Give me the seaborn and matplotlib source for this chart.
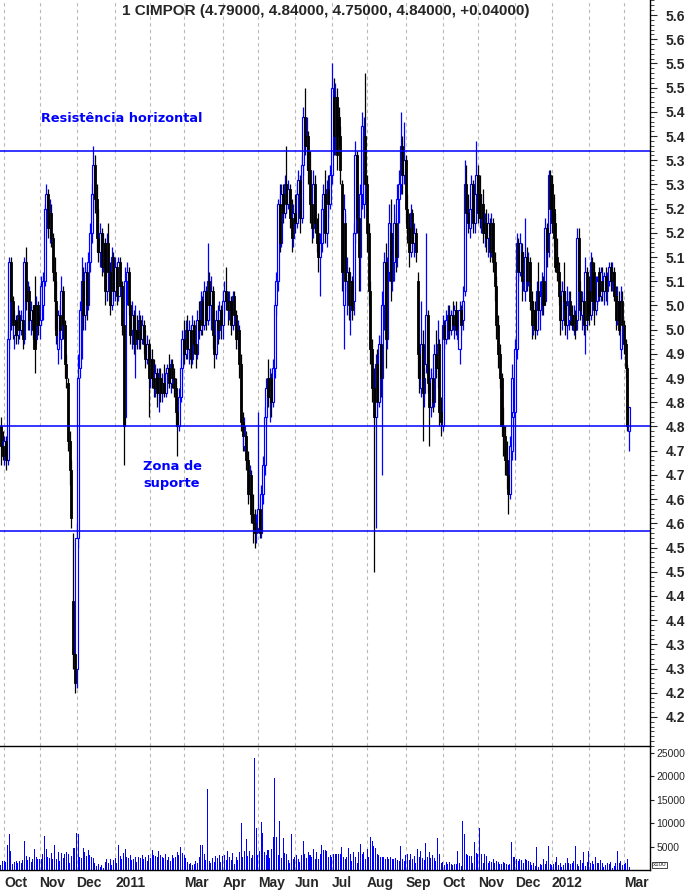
import matplotlib
matplotlib.use("Agg")
import matplotlib.pyplot as plt
import numpy as np
import pandas as pd
import seaborn as sns
from matplotlib.ticker import MultipleLocator

AZUL = "#0000ff"

# pregões de 29-09-2010 a 06-03-2012 (dias úteis)
datas = pd.bdate_range("2010-09-29", "2012-03-06")

# cotações diárias (uma linha por mês)
aberturas = [
    4.80, 4.76,
    4.74, 4.77, 4.73, 4.98, 5.14, 5.06, 4.99, 5.02, 4.99, 5.03, 5.00, 5.02, 4.98, 5.14, 5.06, 5.08, 5.02, 5.04, 5.05, 4.98, 5.05,
    5.01, 5.02, 5.05, 5.10, 5.25, 5.28, 5.21, 5.24, 5.19, 5.12, 5.06, 4.96, 5.03, 4.98, 5.08, 5.01, 4.93, 4.89, 4.77, 4.71, 4.44, 4.33,
    4.30, 4.57, 4.92, 5.04, 5.10, 5.03, 5.12, 5.05, 5.14, 5.20, 5.28, 5.34, 5.27, 5.19, 5.16, 5.20, 5.13, 5.18, 5.08, 5.18, 5.12, 5.05, 5.15,
    5.08, 5.13, 5.07, 5.14, 5.09, 5.01, 4.82, 5.10, 5.12, 5.05, 5.00, 5.03, 4.97, 5.00, 4.98, 5.02, 4.98, 5.01, 4.97, 4.94, 4.97,
    4.90, 4.94, 4.90, 4.88, 4.91, 4.87, 4.90, 4.87, 4.89, 4.87, 4.91, 4.92, 4.89, 4.93, 4.90, 4.88, 4.83, 4.80, 4.86, 4.92,
    4.98, 4.95, 5.00, 4.96, 5.00, 4.94, 5.01, 4.97, 4.95, 5.02, 5.00, 5.06, 5.01, 5.08, 5.02, 5.10, 5.05, 5.08, 4.99, 4.95, 5.02, 5.00, 5.04,
    5.01, 5.06, 5.08, 5.06, 5.04, 5.06, 5.01, 5.07, 5.03, 4.98, 5.00, 4.93, 4.81, 4.76, 4.78, 4.73, 4.66, 4.70, 4.62, 4.60, 4.58,
    4.59, 4.63, 4.58, 4.66, 4.72, 4.82, 4.90, 4.86, 4.90, 4.85, 4.92, 5.05, 5.10, 5.26, 5.18, 5.28, 5.24, 5.30, 5.26, 5.29, 5.23, 5.19,
    5.24, 5.22, 5.28, 5.31, 5.23, 5.34, 5.44, 5.38, 5.40, 5.33, 5.26, 5.21, 5.30, 5.22, 5.20, 5.15, 5.18, 5.25, 5.28, 5.20, 5.29, 5.26,
    5.32, 5.48, 5.40, 5.48, 5.44, 5.40, 5.30, 5.05, 5.22, 5.10, 5.12, 5.05, 5.10, 5.06, 5.20, 5.36, 5.23, 5.15, 5.28, 5.26, 5.40,
    5.30, 5.20, 5.08, 4.96, 4.88, 4.82, 4.93, 4.85, 4.97, 4.90, 5.05, 5.14, 4.98, 5.12, 5.20, 5.10, 5.14, 5.22, 5.15, 5.27, 5.30, 5.38, 5.32,
    5.35, 5.25, 5.21, 5.16, 5.24, 5.18, 5.20, 5.10, 4.95, 4.88, 4.97, 4.87, 4.93, 5.03, 4.89, 4.84, 4.90, 4.85, 4.95, 4.92, 4.97, 4.83,
    4.80, 5.01, 4.98, 5.02, 5.03, 5.00, 5.03, 5.01, 5.04, 4.98, 4.96, 5.04, 5.02, 5.08, 5.30, 5.24, 5.21, 5.25, 5.30, 5.22, 5.28,
    5.32, 5.28, 5.23, 5.26, 5.20, 5.22, 5.19, 5.22, 5.16, 5.22, 5.14, 5.09, 5.01, 4.95, 4.90, 4.80, 4.78, 4.73, 4.70, 4.66, 4.75, 4.82,
    4.83, 4.96, 5.18, 5.12, 5.16, 5.10, 5.08, 5.15, 5.10, 5.14, 5.06, 5.01, 5.04, 5.00, 5.08, 5.04, 5.07, 5.10, 5.06, 5.21, 5.20, 5.32,
    5.30, 5.25, 5.22, 5.15, 5.12, 5.07, 5.02, 5.08, 5.06, 5.01, 5.02, 5.06, 5.03, 5.00, 5.03, 5.02, 5.19, 5.08, 5.03, 5.06, 5.01, 5.12,
    5.08, 5.03, 5.14, 5.12, 5.04, 5.06, 5.12, 5.07, 5.10, 5.08, 5.11, 5.08, 5.10, 5.13, 5.10, 5.12, 5.07, 5.02, 5.06, 4.96, 5.06,
    5.01, 4.97, 4.92, 4.79,
]
maximos = [
    4.82, 4.79,
    4.78, 4.78, 5.00, 5.15, 5.15, 5.07, 5.04, 5.03, 5.05, 5.04, 5.04, 5.03, 5.15, 5.17, 5.10, 5.09, 5.06, 5.05, 5.11, 5.07, 5.06,
    5.05, 5.11, 5.12, 5.26, 5.30, 5.29, 5.27, 5.26, 5.20, 5.15, 5.10, 5.04, 5.05, 5.11, 5.09, 5.02, 4.95, 4.90, 4.79, 4.73, 4.58, 4.34,
    4.60, 4.95, 5.06, 5.15, 5.13, 5.14, 5.13, 5.16, 5.22, 5.30, 5.38, 5.36, 5.30, 5.25, 5.22, 5.21, 5.20, 5.19, 5.20, 5.22, 5.14, 5.17, 5.16,
    5.15, 5.14, 5.15, 5.15, 5.10, 5.02, 5.13, 5.14, 5.13, 5.06, 5.06, 5.04, 5.05, 5.03, 5.04, 5.03, 5.03, 5.02, 5.00, 4.99, 4.98,
    4.96, 4.96, 4.94, 4.93, 4.92, 4.92, 4.92, 4.91, 4.93, 4.92, 4.93, 4.95, 4.94, 4.94, 4.92, 4.90, 4.86, 4.88, 4.94, 5.00,
    5.02, 5.02, 5.03, 5.02, 5.01, 5.03, 5.02, 5.00, 5.04, 5.06, 5.08, 5.07, 5.10, 5.09, 5.18, 5.12, 5.11, 5.09, 5.01, 5.04, 5.05, 5.06, 5.05,
    5.08, 5.10, 5.13, 5.08, 5.08, 5.07, 5.08, 5.08, 5.04, 5.02, 5.01, 4.95, 4.83, 4.82, 4.79, 4.75, 4.72, 4.71, 4.66, 4.63, 4.62,
    4.83, 4.64, 4.68, 4.74, 4.84, 4.90, 4.94, 4.92, 4.91, 4.94, 5.06, 5.12, 5.27, 5.30, 5.30, 5.30, 5.32, 5.38, 5.31, 5.30, 5.27, 5.26,
    5.28, 5.30, 5.33, 5.32, 5.36, 5.46, 5.50, 5.44, 5.41, 5.37, 5.30, 5.33, 5.32, 5.23, 5.24, 5.20, 5.27, 5.30, 5.33, 5.31, 5.32, 5.34,
    5.55, 5.52, 5.51, 5.50, 5.46, 5.42, 5.31, 5.28, 5.24, 5.15, 5.13, 5.12, 5.11, 5.22, 5.39, 5.37, 5.25, 5.30, 5.45, 5.44, 5.53,
    5.32, 5.22, 5.10, 4.98, 4.92, 4.95, 4.96, 4.99, 4.99, 5.08, 5.16, 5.18, 5.15, 5.26, 5.27, 5.20, 5.26, 5.24, 5.30, 5.33, 5.45, 5.40, 5.43,
    5.36, 5.28, 5.24, 5.26, 5.25, 5.22, 5.21, 5.12, 4.97, 5.06, 5.00, 4.92, 5.20, 5.04, 4.92, 4.92, 4.91, 4.97, 5.00, 5.02, 4.98, 4.86,
    5.03, 5.02, 5.04, 5.05, 5.05, 5.04, 5.06, 5.05, 5.06, 5.03, 5.06, 5.05, 5.09, 5.35, 5.34, 5.28, 5.27, 5.32, 5.31, 5.30, 5.39,
    5.34, 5.32, 5.28, 5.29, 5.24, 5.25, 5.24, 5.23, 5.24, 5.23, 5.16, 5.11, 5.03, 4.97, 4.91, 4.84, 4.80, 4.77, 4.72, 4.78, 4.93, 4.86,
    4.98, 5.20, 5.19, 5.20, 5.18, 5.16, 5.23, 5.17, 5.16, 5.15, 5.08, 5.06, 5.06, 5.10, 5.14, 5.10, 5.12, 5.11, 5.23, 5.22, 5.33, 5.33,
    5.32, 5.28, 5.24, 5.19, 5.14, 5.10, 5.10, 5.14, 5.08, 5.09, 5.08, 5.08, 5.05, 5.05, 5.04, 5.21, 5.21, 5.10, 5.08, 5.07, 5.15, 5.13,
    5.11, 5.16, 5.15, 5.14, 5.11, 5.11, 5.13, 5.13, 5.13, 5.12, 5.13, 5.12, 5.14, 5.14, 5.14, 5.13, 5.09, 5.09, 5.08, 5.09, 5.08,
    5.02, 4.98, 4.93, 4.84,
]
minimos = [
    4.72, 4.73,
    4.72, 4.71, 4.72, 4.96, 5.00, 4.98, 4.96, 4.97, 4.97, 4.98, 4.99, 4.96, 4.97, 5.04, 5.00, 5.00, 4.99, 4.98, 4.91, 4.97, 4.99,
    4.98, 5.01, 5.02, 5.09, 5.20, 5.19, 5.18, 5.17, 5.10, 5.00, 4.97, 4.93, 4.98, 4.94, 4.98, 4.90, 4.88, 4.75, 4.68, 4.59, 4.30, 4.25,
    4.26, 4.55, 4.90, 4.94, 5.00, 5.00, 5.02, 5.04, 5.12, 5.18, 5.25, 5.24, 5.16, 5.14, 5.13, 5.11, 5.12, 5.05, 5.06, 5.10, 5.03, 5.04, 5.06,
    5.06, 5.05, 5.06, 5.07, 4.99, 4.72, 4.80, 5.05, 5.03, 4.97, 4.96, 4.95, 4.90, 4.96, 4.96, 4.96, 4.97, 4.95, 4.92, 4.93, 4.82,
    4.88, 4.88, 4.86, 4.86, 4.84, 4.83, 4.85, 4.85, 4.86, 4.86, 4.88, 4.88, 4.87, 4.88, 4.86, 4.80, 4.74, 4.79, 4.85, 4.90,
    4.93, 4.94, 4.94, 4.93, 4.92, 4.93, 4.95, 4.92, 4.94, 4.98, 4.99, 4.99, 5.00, 5.00, 5.01, 5.02, 5.00, 4.96, 4.92, 4.94, 4.97, 4.98, 4.98,
    4.98, 5.03, 5.04, 5.01, 5.02, 4.99, 5.00, 5.01, 4.96, 4.96, 4.90, 4.79, 4.75, 4.75, 4.71, 4.64, 4.65, 4.60, 4.56, 4.55, 4.56,
    4.58, 4.57, 4.57, 4.64, 4.70, 4.80, 4.84, 4.81, 4.82, 4.84, 4.90, 5.03, 5.08, 5.16, 5.17, 5.22, 5.23, 5.24, 5.25, 5.21, 5.16, 5.17,
    5.20, 5.21, 5.24, 5.20, 5.22, 5.32, 5.36, 5.33, 5.30, 5.22, 5.18, 5.19, 5.20, 5.16, 5.12, 5.07, 5.16, 5.21, 5.18, 5.17, 5.23, 5.25,
    5.30, 5.36, 5.36, 5.33, 5.38, 5.30, 5.08, 4.96, 5.08, 5.03, 5.02, 4.99, 5.02, 5.03, 5.18, 5.20, 5.08, 5.08, 5.25, 5.23, 5.26,
    5.16, 5.05, 4.93, 4.85, 4.50, 4.59, 4.82, 4.84, 4.86, 4.70, 5.00, 4.92, 4.96, 5.10, 5.06, 5.08, 5.10, 5.12, 5.13, 5.22, 5.28, 5.28, 5.30,
    5.22, 5.18, 5.13, 5.15, 5.16, 5.15, 5.14, 4.90, 4.87, 4.86, 4.77, 4.84, 4.91, 4.87, 4.76, 4.82, 4.83, 4.84, 4.90, 4.88, 4.80, 4.78,
    4.79, 4.96, 4.97, 4.98, 4.98, 4.99, 5.00, 4.98, 4.99, 4.97, 4.93, 4.99, 5.00, 5.07, 5.22, 5.20, 5.19, 5.23, 5.20, 5.20, 5.26,
    5.22, 5.21, 5.20, 5.18, 5.17, 5.16, 5.15, 5.14, 5.15, 5.12, 5.06, 4.98, 4.92, 4.88, 4.78, 4.74, 4.70, 4.67, 4.62, 4.65, 4.73, 4.76,
    4.73, 4.94, 5.10, 5.11, 5.06, 5.08, 5.06, 5.08, 5.09, 5.04, 4.98, 4.99, 4.98, 4.99, 5.02, 5.00, 5.03, 5.03, 5.05, 5.13, 5.15, 5.22,
    5.20, 5.17, 5.12, 5.10, 5.05, 4.99, 5.00, 5.04, 4.99, 4.98, 5.00, 5.01, 5.00, 4.99, 4.98, 5.00, 5.05, 5.02, 5.00, 4.99, 4.95, 5.00,
    5.01, 5.02, 5.04, 5.01, 5.03, 5.05, 5.06, 5.06, 5.06, 5.05, 5.06, 5.05, 5.09, 5.08, 5.08, 5.06, 5.00, 5.01, 4.99, 4.94, 4.99,
    4.95, 4.90, 4.79, 4.75,
]
fechos = [
    4.76, 4.74,
    4.77, 4.73, 4.98, 5.14, 5.06, 5.01, 5.02, 4.99, 5.03, 5.00, 5.02, 4.98, 5.14, 5.06, 5.08, 5.02, 5.04, 5.00, 4.96, 5.05, 5.01,
    5.03, 5.09, 5.10, 5.25, 5.28, 5.21, 5.24, 5.19, 5.12, 5.06, 4.99, 5.03, 5.00, 5.08, 5.01, 4.93, 4.90, 4.77, 4.71, 4.61, 4.33, 4.27,
    4.57, 4.90, 5.04, 5.10, 5.03, 5.12, 5.05, 5.14, 5.20, 5.28, 5.34, 5.27, 5.19, 5.16, 5.20, 5.13, 5.18, 5.08, 5.18, 5.12, 5.05, 5.15, 5.08,
    5.13, 5.07, 5.14, 5.09, 5.01, 4.80, 5.10, 5.12, 5.05, 4.99, 5.03, 4.97, 5.00, 4.98, 5.02, 4.98, 5.01, 4.97, 4.94, 4.97, 4.90,
    4.94, 4.90, 4.88, 4.91, 4.87, 4.90, 4.87, 4.89, 4.87, 4.91, 4.92, 4.89, 4.93, 4.90, 4.88, 4.83, 4.80, 4.86, 4.92, 4.98,
    4.95, 5.00, 4.96, 5.00, 4.94, 5.01, 4.97, 4.95, 5.02, 5.00, 5.06, 5.01, 5.08, 5.02, 5.10, 5.05, 5.08, 4.99, 4.95, 5.02, 5.00, 5.04, 5.01,
    5.06, 5.08, 5.06, 5.04, 5.06, 5.01, 5.07, 5.03, 4.98, 5.00, 4.93, 4.81, 4.78, 4.80, 4.73, 4.66, 4.70, 4.62, 4.60, 4.58, 4.60,
    4.63, 4.58, 4.66, 4.72, 4.82, 4.88, 4.86, 4.90, 4.85, 4.92, 5.05, 5.10, 5.26, 5.18, 5.28, 5.24, 5.30, 5.26, 5.29, 5.23, 5.19, 5.24,
    5.22, 5.28, 5.31, 5.23, 5.34, 5.44, 5.38, 5.40, 5.33, 5.26, 5.21, 5.30, 5.22, 5.18, 5.15, 5.18, 5.25, 5.28, 5.20, 5.29, 5.26, 5.32,
    5.50, 5.40, 5.48, 5.36, 5.40, 5.33, 5.12, 5.25, 5.10, 5.12, 5.05, 5.10, 5.04, 5.20, 5.36, 5.23, 5.15, 5.28, 5.42, 5.40, 5.30,
    5.20, 5.08, 4.96, 4.88, 4.82, 4.93, 4.85, 4.97, 4.90, 5.05, 5.14, 4.98, 5.12, 5.22, 5.10, 5.16, 5.22, 5.15, 5.27, 5.30, 5.38, 5.32, 5.35,
    5.25, 5.21, 5.16, 5.24, 5.18, 5.20, 5.16, 4.95, 4.90, 4.97, 4.87, 4.90, 5.03, 4.89, 4.84, 4.90, 4.85, 4.95, 4.92, 4.97, 4.83, 4.81,
    5.01, 4.98, 5.02, 5.03, 5.00, 5.03, 5.01, 5.04, 5.00, 5.02, 5.04, 5.01, 5.06, 5.30, 5.24, 5.22, 5.25, 5.30, 5.22, 5.28, 5.32,
    5.24, 5.23, 5.26, 5.20, 5.22, 5.19, 5.22, 5.16, 5.22, 5.14, 5.09, 5.01, 4.95, 4.90, 4.80, 4.78, 4.73, 4.70, 4.66, 4.76, 4.90, 4.83,
    4.96, 5.18, 5.12, 5.18, 5.10, 5.14, 5.15, 5.10, 5.14, 5.06, 5.01, 5.04, 5.00, 5.08, 5.04, 5.07, 5.10, 5.05, 5.21, 5.16, 5.32, 5.25,
    5.22, 5.19, 5.13, 5.12, 5.07, 5.02, 5.08, 5.06, 5.01, 5.05, 5.06, 5.03, 5.01, 5.03, 5.00, 5.19, 5.08, 5.04, 5.06, 5.01, 5.12, 5.02,
    5.03, 5.14, 5.06, 5.04, 5.09, 5.10, 5.07, 5.12, 5.08, 5.11, 5.08, 5.10, 5.13, 5.10, 5.12, 5.07, 5.02, 5.06, 5.00, 5.06, 5.01,
    4.97, 4.92, 4.80, 4.84,
]
# volume em centenas de títulos (eixo "x100")
volumes = [
    1000, 1900,
    1900, 1700, 5400, 7700, 4100, 1300, 1700, 2000, 1400, 2000, 1600, 2100, 6200, 3000, 2200, 2700, 1700, 2400, 4500, 2700, 2400,
    2400, 2300, 3400, 7300, 4500, 2700, 2600, 3600, 2400, 5400, 2300, 3800, 2000, 3600, 2500, 3500, 3800, 3500, 1600, 2900, 4700, 4700,
    7900, 7600, 2700, 2600, 4700, 3800, 2900, 4300, 3200, 2700, 2500, 1400, 900, 1200, 600, 1000, 400, 1700, 2300, 1500, 2300, 1000, 2200,
    2600, 1500, 5400, 2900, 2400, 3600, 4500, 2800, 2500, 3100, 2200, 2300, 2700, 1800, 2800, 2500, 3200, 2300, 2800, 1900, 3100,
    2500, 4300, 3300, 2900, 2700, 4100, 3300, 2800, 2600, 3400, 2200, 2800, 2000, 3300, 2600, 2800, 3800, 3200, 4900, 3600,
    3100, 2500, 1700, 1200, 1400, 1000, 1300, 2000, 1500, 2700, 5300, 5300, 3400, 2100, 17300, 1900, 1400, 2600, 1800, 3000, 2500, 3100, 1700,
    3000, 3200, 2100, 4100, 2700, 2200, 3600, 1300, 2800, 2200, 3900, 10000, 2700, 4000, 6600, 3000, 4000, 2500, 3300, 24000, 9000,
    3300, 4000, 10200, 7900, 3800, 3300, 4300, 2500, 4500, 7000, 19600, 7000, 3300, 10500, 2500, 6800, 3600, 3400, 2100, 1600, 7800, 2300,
    2800, 3300, 2400, 1800, 3300, 6300, 3400, 2600, 3800, 3200, 2700, 4500, 2400, 3800, 2400, 3400, 5400, 4300, 4300, 4000, 2700, 3200,
    2700, 3500, 3500, 3500, 3500, 3500, 5000, 2700, 2400, 2700, 4800, 3500, 2000, 3800, 2700, 1600, 3800, 5600, 3500, 3800, 2300,
    4500, 2700, 7000, 6300, 5200, 4800, 3500, 3100, 2700, 2700, 2700, 2300, 2700, 2400, 2700, 2300, 2300, 2500, 2200, 1900, 5200, 2400, 2000,
    3100, 3400, 2200, 3500, 2400, 2900, 1600, 4400, 2800, 4000, 2600, 2200, 5800, 2700, 3800, 2500, 3200, 2600, 2000, 6800, 3500, 1600,
    1700, 1100, 1800, 1200, 1700, 1300, 1000, 1300, 1300, 4100, 1500, 800, 10500, 7700, 3400, 3100, 2900, 3000, 1600, 5900, 3600,
    3400, 8900, 3400, 1600, 3400, 3000, 1600, 2000, 1700, 2300, 1600, 2000, 1700, 1300, 1200, 1800, 1600, 1200, 1000, 1300, 5900, 2700,
    2700, 2400, 2000, 2400, 2100, 1600, 2400, 2200, 2000, 1700, 1100, 1600, 800, 4900, 600, 1300, 1000, 2400, 1300, 2000, 5100, 1300,
    1000, 1300, 1700, 2800, 1000, 1500, 700, 1000, 1600, 2600, 1400, 1300, 1600, 2000, 5100, 1300, 900, 2100, 1500, 3800, 800, 1700,
    4100, 1600, 1900, 1300, 2700, 1600, 1400, 2100, 1500, 700, 1000, 1500, 1200, 1800, 500, 900, 1400, 4100, 1600, 1900, 1100,
    1300, 1600, 2400, 600,
]

# linhas horizontais desenhadas pelo autor
resistencia = 5.37
suporte_topo = 4.80
suporte_base = 4.585

# eixos
precos_ticks = [4.20, 4.25, 4.30, 4.35, 4.40, 4.45, 4.50, 4.55, 4.60, 4.65, 4.70, 4.75, 4.80, 4.85, 4.90,
                4.95, 5.00, 5.05, 5.10, 5.15, 5.20, 5.25, 5.30, 5.35, 5.40, 5.45, 5.50, 5.55, 5.60, 5.65]
precos_rotulos = ["4.2", "4.2", "4.3", "4.3", "4.4", "4.4", "4.5", "4.5", "4.6", "4.6", "4.7", "4.7", "4.8", "4.8", "4.9",
                  "4.9", "5.0", "5.0", "5.1", "5.1", "5.2", "5.2", "5.3", "5.3", "5.4", "5.4", "5.5", "5.5", "5.6", "5.6"]
volume_ticks = [5000, 10000, 15000, 20000, 25000]
rotulos_meses = ["Oct", "Nov", "Dec", "2011", "", "Mar", "Apr", "May", "Jun", "Jul", "Aug", "Sep",
                 "Oct", "Nov", "Dec", "2012", "", "Mar"]
titulo = "1 CIMPOR (4.79000, 4.84000, 4.75000, 4.84000, +0.04000)"

df = pd.DataFrame({"data": datas, "abertura": aberturas, "maximo": maximos,
                   "minimo": minimos, "fecho": fechos, "volume": volumes})
df["pos"] = np.arange(len(df))
sobe = df["fecho"] >= df["abertura"]
inicio_mes = df.index[df["data"].dt.month != df["data"].dt.month.shift()][1:]

sns.set_style("white")
plt.rcParams["font.family"] = ["Liberation Sans", "DejaVu Sans"]

W, H = 686, 891
fig = plt.figure(figsize=(W / 100, H / 100), dpi=100)
ax = fig.add_axes([0, 1 - 746 / H, 650 / W, 746 / H])
axv = fig.add_axes([0, 1 - 870 / H, 650 / W, 124 / H], sharex=ax)
axv.patch.set_visible(False)

# velas: pavio + corpo (azul oco = subida, preto cheio = descida)
cores = np.where(sobe, AZUL, "black")
ax.vlines(df["pos"], df["minimo"], df["maximo"], colors=cores, linewidth=0.9, zorder=2)
d = df[sobe]
ax.bar(d["pos"], d["fecho"] - d["abertura"], bottom=d["abertura"], width=1.2,
       facecolor="white", edgecolor=AZUL, linewidth=0.85, zorder=3)
d = df[~sobe]
ax.bar(d["pos"], d["abertura"] - d["fecho"], bottom=d["fecho"], width=1.2,
       facecolor="black", edgecolor="black", linewidth=0.6, zorder=3)

for nivel in (resistencia, suporte_topo, suporte_base):
    ax.axhline(nivel, color=AZUL, linewidth=1.1, zorder=4)

sns.barplot(data=df, x="pos", y="volume", native_scale=True, color=AZUL, saturation=1,
            width=0.6, errorbar=None, linewidth=0, ax=axv)

ax.set_xlim(-0.54, 386.4)
ax.set_ylim(4.140, 5.681)
axv.set_ylim(0, 26500)

for a in (ax, axv):
    a.set_xticks(inicio_mes)
    a.grid(axis="x", color="#b8b8b8", linestyle=(0, (3, 3)), linewidth=0.8)
    a.grid(axis="y", visible=False)
    a.set_axisbelow(True)
    a.yaxis.tick_right()
    a.set_xlabel("")
    a.set_ylabel("")
    for lado in ("left", "top"):
        a.spines[lado].set_visible(False)
    for lado in ("right", "bottom"):
        a.spines[lado].set_color("black")
        a.spines[lado].set_linewidth(1.0)
axv.set_xticklabels(rotulos_meses)
axv.tick_params(axis="x", length=4, width=1, pad=0.5, labelsize=10, direction="out")
for rot in axv.get_xticklabels():
    rot.set_horizontalalignment("left")
    rot.set_fontweight("bold")
ax.tick_params(axis="x", length=0, labelbottom=False)

ax.set_yticks(precos_ticks)
ax.set_yticklabels(precos_rotulos, fontweight="bold")
ax.yaxis.set_minor_locator(MultipleLocator(0.01))
ax.tick_params(axis="y", which="major", length=5, width=0.8, pad=6, labelsize=10)
ax.tick_params(axis="y", which="minor", length=3, width=0.6, right=True)

axv.set_yticks(volume_ticks)
axv.set_yticklabels([str(v) for v in volume_ticks])
axv.tick_params(axis="y", length=3, width=0.8, pad=1.5, labelsize=7.5)

fig.text(326 / W, 1 - 11 / H, titulo, ha="center", va="center", fontsize=11, fontweight="bold")
fig.text(41 / W, 1 - 119 / H, "Resistência horizontal", color=AZUL, fontsize=9.3,
         fontweight="bold", family="DejaVu Sans", va="center")
fig.text(143 / W, 1 - 475 / H, "Zona de\nsuporte", color=AZUL, fontsize=9.4,
         fontweight="bold", family="DejaVu Sans", va="center", linespacing=1.35)
fig.text(653 / W, 1 - 865 / H, "x100", fontsize=4.5, va="center",
         bbox=dict(facecolor="white", edgecolor="black", linewidth=0.5, pad=0.6))

fig.savefig("out.png", dpi=100)
